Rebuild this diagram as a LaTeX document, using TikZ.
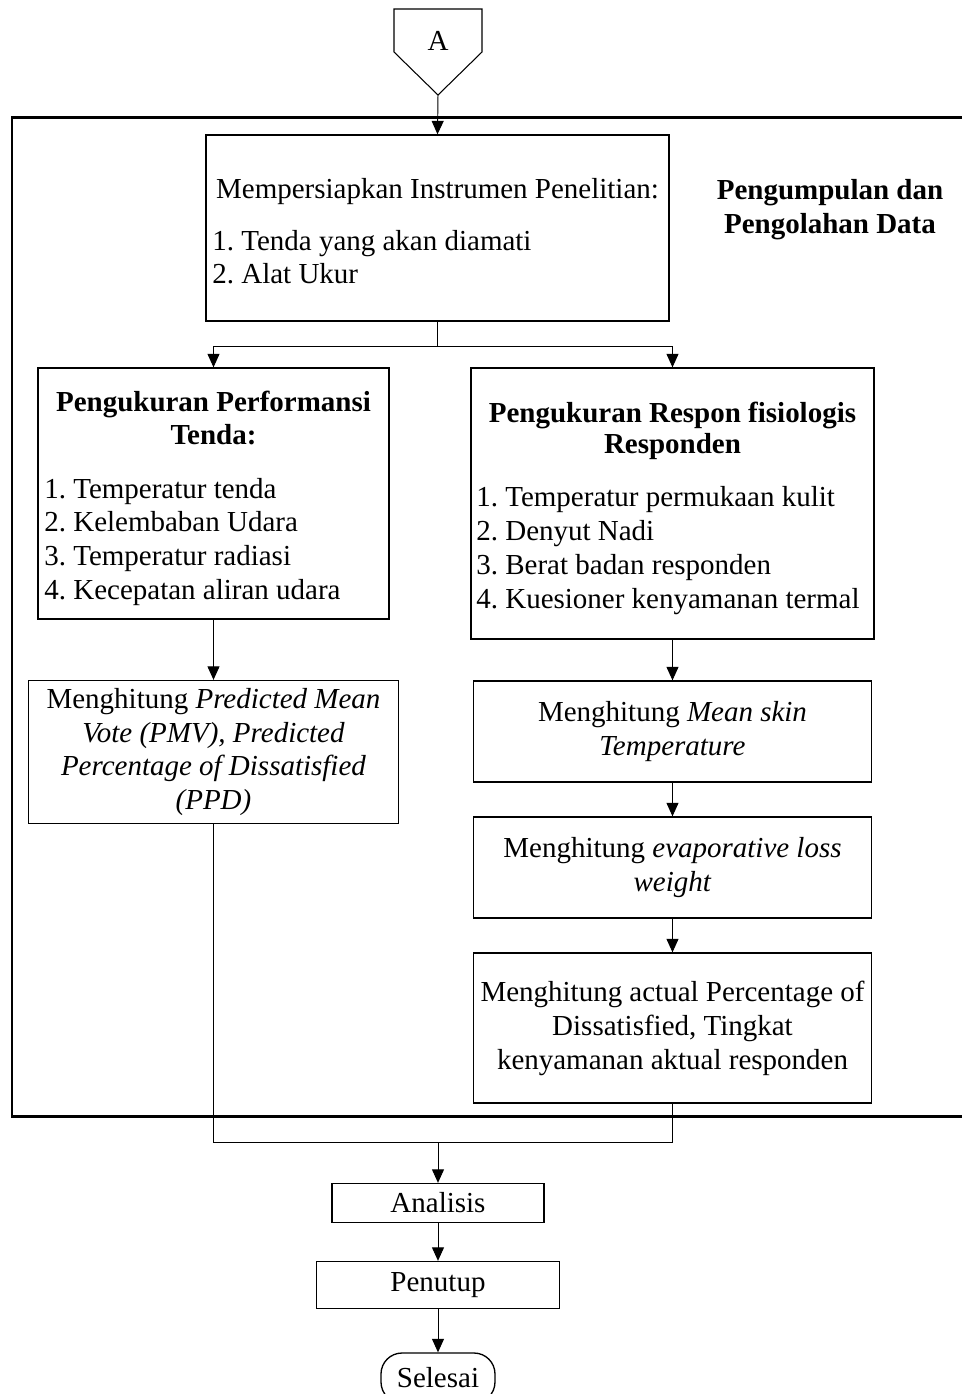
\documentclass[tikz,border=0pt]{standalone}
\usepackage{fontspec}
\setmainfont{Liberation Serif}
\usepackage{tikz}
\usetikzlibrary{arrows.meta,positioning,calc}
\newlength\px
\setlength\px{0.02cm}
\frenchspacing

\begin{document}
\begin{tikzpicture}[x=0.02cm,y=-0.02cm,font=\fontsize{16.5}{19.3}\selectfont,
  box/.style={draw,line width=0.75pt,inner sep=2pt,align=center},
  arr/.style={line width=0.55pt,-{Triangle[length=0.27cm,width=0.24cm]}},
  lnk/.style={line width=0.55pt}]
\clip (0,0) rectangle (962,1394);
% off-page connector
\draw[line width=0.6pt] (394,9) -- (482,9) -- (482,52) -- (438,95) coordinate (conA) -- (394,52) -- cycle;
\node (lblA) at (438,41) {A};
% frame
\draw[line width=1.7pt] (12,117) rectangle (990,1116);
\node[font=\fontsize{16.5}{19.3}\selectfont\bfseries,align=center] (lbl) at (830,210) {Pengumpulan dan\\Pengolahan Data};
% boxes
\node[box,minimum width=463\px,minimum height=186\px] (prep) at (437.5,228) {};
\node[box,minimum width=351\px,minimum height=251\px] (perf) at (213.5,493.5) {};
\node[box,minimum width=403\px,minimum height=271\px] (resp) at (672.5,503.5) {};
\node[box,minimum width=370\px,minimum height=143\px] (pmv) at (213.5,752) {Menghitung \textit{Predicted Mean}\\\textit{Vote (PMV), Predicted}\\\textit{Percentage of Dissatisfied}\\\textit{(PPD)}};
\node[box,minimum width=398\px,minimum height=101\px] (skin) at (672.5,731.5) {Menghitung \textit{Mean skin}\\\textit{Temperature}};
\node[box,minimum width=398\px,minimum height=101\px] (evap) at (672.5,867.5) {Menghitung \textit{evaporative loss}\\\textit{weight}};
\node[box,minimum width=398\px,minimum height=150\px] (actual) at (672.5,1028) {Menghitung actual Percentage of\\Dissatisfied, Tingkat\\kenyamanan aktual responden};
\node[box,minimum width=212\px,minimum height=39\px] (anal) at (438,1203) {Analisis};
\node[box,minimum width=243\px,minimum height=47\px] (tutup) at (438,1285) {Penutup};
\node[box,minimum width=114\px,minimum height=50\px,rounded corners=0.42cm] (done) at (438,1378) {Selesai};
% box texts
\node[anchor=base] (prep-t) at (437.5,198) {Mempersiapkan Instrumen Penelitian:};
\foreach \t [count=\i] in {Tenda yang akan diamati,Alat Ukur}
  \node[anchor=base west,inner sep=0pt] (prep-\i) at (212,{250+33*(\i-1)}) {\i. \t};
\node[anchor=base,font=\fontsize{16.5}{19.3}\selectfont\bfseries] (perf-t1) at (213.5,411) {Pengukuran Performansi};
\node[anchor=base,font=\fontsize{16.5}{19.3}\selectfont\bfseries] (perf-t2) at (213.5,444) {Tenda:};
\foreach \t [count=\i] in {Temperatur tenda,Kelembaban Udara,Temperatur radiasi,Kecepatan aliran udara}
  \node[anchor=base west,inner sep=0pt] (perf-\i) at (44,{498+33.7*(\i-1)}) {\i. \t};
\node[anchor=base,font=\fontsize{16.5}{19.3}\selectfont\bfseries] (resp-t1) at (672.5,422) {Pengukuran Respon fisiologis};
\node[anchor=base,font=\fontsize{16.5}{19.3}\selectfont\bfseries] (resp-t2) at (672.5,453) {Responden};
\foreach \t [count=\i] in {Temperatur permukaan kulit,Denyut Nadi,Berat badan responden,Kuesioner kenyamanan termal}
  \node[anchor=base west,inner sep=0pt] (resp-\i) at (476,{506+34*(\i-1)}) {\i. \t};
% connectors
\draw[arr] (conA) -- (prep.north);
\coordinate (split) at ($(prep.south)+(0,25)$);
\draw[lnk] (prep.south) -- (split);
\draw[arr] (split) -| (perf.north);
\draw[arr] (split) -| (resp.north);
\draw[arr] (perf.south) -- (pmv.north);
\draw[arr] (resp.south) -- (skin.north);
\draw[arr] (skin) -- (evap);
\draw[arr] (evap) -- (actual);
\coordinate (join) at (438,1142);
\draw[lnk] (pmv.south) |- (join);
\draw[lnk] (actual.south) |- (join);
\draw[arr] (join) -- (anal.north);
\draw[arr] (anal) -- (tutup);
\draw[arr] (tutup) -- (done);
\end{tikzpicture}
\end{document}
